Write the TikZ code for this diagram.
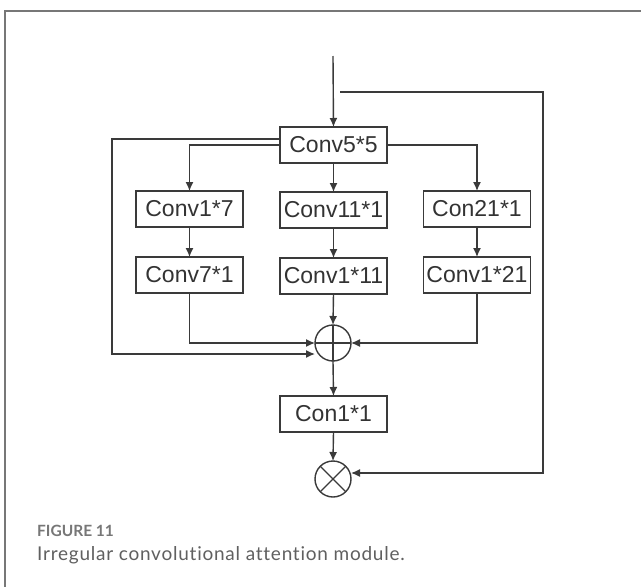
\documentclass[tikz,border=0pt]{standalone}
\usepackage{fontspec}
\setmainfont{Liberation Sans}
\newfontfamily\capfont{Lato}
\newfontfamily\capwide[LetterSpace=4,Ligatures={NoCommon}]{Lato}
\usetikzlibrary{arrows.meta}
\definecolor{ln}{HTML}{3A3A3A}
\definecolor{txt}{HTML}{333333}
\definecolor{framec}{HTML}{777777}
\definecolor{capa}{HTML}{777777}
\definecolor{capb}{HTML}{606060}
\begin{document}
\begin{tikzpicture}[x=1pt,y=-1pt,
  box/.style={draw=ln, line width=1.4pt, minimum width=107pt, minimum height=36pt,
    inner sep=0pt, outer sep=0pt, font=\fontsize{23}{26}\selectfont, text=txt},
  op/.style={draw=ln, line width=1.4pt, circle, minimum size=36pt, inner sep=0pt, outer sep=0pt},
  conn/.style={draw=ln, line width=1.4pt, -{Latex[length=9pt,width=8pt]}},
  wire/.style={draw=ln, line width=1.4pt},
  frameline/.style={draw=framec, line width=1.5pt}]
\useasboundingbox (0,0) rectangle (641,587);
\fill[white] (0,0) rectangle (641,587);
\draw[frameline] (5,590) -- (5,11) -- (645,11);

\node[box] (c55) at (333.5,145) {Conv5*5};
\node[box] (c17) at (189.5,209) {Conv1*7};
\node[box] (c111) at (333.5,210) {Conv11*1};
\node[box] (c211) at (477,209) {Con21*1};
\node[box] (c71) at (189.5,275) {Conv7*1};
\node[box] (c1x11) at (333.5,276) {Conv1*11};
\node[box] (c1x21) at (477,275) {Conv1*21};
\node[op] (add) at (333,343) {};
\draw[wire] (add.north) -- (add.south);
\draw[wire] (add.west) -- (add.east);
\node[box] (c11) at (333.5,414) {Con1*1};
\node[op] (mul) at (333,479) {};
\draw[wire] (mul.north west) -- (mul.south east);
\draw[wire] (mul.north east) -- (mul.south west);

\coordinate (in) at (333,56);
\coordinate (r0) at (340,92);

\draw[conn] (in) -- (c55.north);
\draw[conn] (c55.west) -| (c17.north);
\draw[conn] (c55.south) -- (c111.north);
\draw[conn] (c55.east) -| (c211.north);
\draw[conn] (c17.south) -- (c71.north);
\draw[conn] (c111.south) -- (c1x11.north);
\draw[conn] (c211.south) -- (c1x21.north);
\draw[conn] (c71.south) |- (add.west);
\draw[conn] (c1x11.south) -- (add.north);
\draw[conn] (c1x21.south) |- (add.east);
\draw[conn] ([yshift=6pt]c55.west) -- ++(-168,0) |- ([yshift=-11pt]add.west);
\draw[conn] (add.south) -- (c11.north);
\draw[conn] (c11.south) -- (mul.north);
\draw[conn] (r0) -- (543,92) |- ([yshift=6pt]mul.east);

\node[anchor=base west, inner sep=0pt, text=capa,
  font=\capfont\bfseries\fontsize{15.5}{18}\selectfont] (fig) at (37,536) {FIGURE 11};
\node[anchor=base west, inner sep=0pt, text=capb,
  font=\capwide\fontsize{19}{22}\selectfont] (cap) at (37,560) {Irregular convolutional attention module.};
\end{tikzpicture}
\end{document}
